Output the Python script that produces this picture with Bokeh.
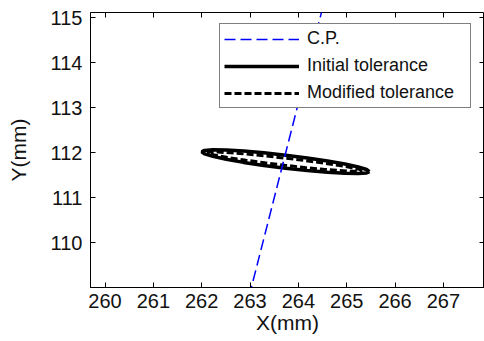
from bokeh.plotting import figure
from bokeh.models import (Range1d, LinearAxis, Legend, LegendItem, FixedTicker,
                          CustomLabelingPolicy)
from bokeh.embed import file_html
from bokeh.resources import INLINE

# --- data ---
x_ticks = [260, 261, 262, 263, 264, 265, 266, 267]
y_ticks = [110, 111, 112, 113, 114, 115]

cp_x = [262.98, 264.52]
cp_y = [108.8, 115.3]

init_x = [265.470, 265.411, 265.238, 264.962, 264.603, 264.184, 263.735, 263.286,
          262.868, 262.508, 262.232, 262.059, 262.000, 262.059, 262.232, 262.508,
          262.868, 263.286, 263.735, 264.184, 264.603, 264.962, 265.238, 265.411, 265.470]
init_y = [111.580, 111.625, 111.682, 111.747, 111.816, 111.883, 111.945, 111.997,
          112.036, 112.058, 112.063, 112.050, 112.020, 111.975, 111.918, 111.853,
          111.784, 111.717, 111.655, 111.603, 111.564, 111.542, 111.537, 111.550, 111.580]

mod_x = [265.320, 265.266, 265.106, 264.851, 264.520, 264.134, 263.720, 263.306,
         262.920, 262.589, 262.334, 262.174, 262.120, 262.174, 262.334, 262.589,
         262.920, 263.306, 263.720, 264.134, 264.520, 264.851, 265.106, 265.266, 265.320]
mod_y = [111.600, 111.628, 111.667, 111.715, 111.769, 111.826, 111.880, 111.929,
         111.969, 111.998, 112.013, 112.014, 112.000, 111.973, 111.933, 111.885,
         111.831, 111.775, 111.720, 111.671, 111.631, 111.602, 111.587, 111.586, 111.600]

labels = ["C.P.", "Initial tolerance", "Modified tolerance"]

FONT = "Liberation Sans"

p = figure(width=484, height=341, output_backend="svg", toolbar_location=None,
           x_range=Range1d(259.70, 267.85), y_range=Range1d(109.0, 115.12),
           min_border_left=90, min_border_right=0, min_border_top=12, min_border_bottom=54)
p.xgrid.visible = False
p.ygrid.visible = False
p.outline_line_color = "black"
p.outline_line_width = 1
p.background_fill_color = "white"

for ax in (p.xaxis[0], p.yaxis[0]):
    ax.major_tick_in = 5
    ax.major_tick_out = 0
    ax.minor_tick_line_color = None
    ax.axis_line_color = "black"
    ax.major_tick_line_color = "black"
    ax.major_label_text_font = FONT
    ax.major_label_text_font_size = "20px"
    ax.major_label_text_color = "#111111"
    ax.axis_label_text_font = FONT
    ax.axis_label_text_font_size = "21px"
    ax.axis_label_text_font_style = "normal"
    ax.axis_label_text_color = "#111111"

p.xaxis[0].ticker = FixedTicker(ticks=x_ticks)
p.yaxis[0].ticker = FixedTicker(ticks=y_ticks)
p.xaxis[0].axis_label = "X(mm)"
p.yaxis[0].axis_label = "Y(mm)"
p.xaxis[0].major_label_standoff = 6
p.xaxis[0].axis_label_standoff = 0
p.yaxis[0].major_label_standoff = 8
p.yaxis[0].axis_label_standoff = 18

top_ax = LinearAxis(ticker=FixedTicker(ticks=x_ticks), major_tick_in=5, major_tick_out=0,
                    minor_tick_line_color=None, axis_line_color=None,
                    major_label_policy=CustomLabelingPolicy(code="return new Set()"),
                    major_label_text_font_size="0px", major_label_standoff=0,
                    axis_label_standoff=0)
right_ax = LinearAxis(ticker=FixedTicker(ticks=y_ticks), major_tick_in=5, major_tick_out=0,
                      minor_tick_line_color=None, axis_line_color=None,
                      major_label_policy=CustomLabelingPolicy(code="return new Set()"),
                      major_label_text_font_size="0px", major_label_standoff=0,
                      axis_label_standoff=0)
p.add_layout(top_ax, "above")
p.add_layout(right_ax, "right")

r_init = p.line(init_x, init_y, line_color="black", line_width=3.5)
r_mod = p.line(mod_x, mod_y, line_color="black", line_width=3, line_dash="7 3")
r_cp = p.line(cp_x, cp_y, line_color="#0000ff", line_width=1.5, line_dash="11 5")

legend = Legend(items=[LegendItem(label=labels[0], renderers=[r_cp]),
                       LegendItem(label=labels[1], renderers=[r_init]),
                       LegendItem(label=labels[2], renderers=[r_mod])],
                location=(129, 179))
legend.label_text_font = FONT
legend.label_text_font_size = "18px"
legend.label_text_color = "#111111"
legend.glyph_width = 75
legend.glyph_height = 16
legend.label_height = 16
legend.label_width = 159
legend.spacing = 6
legend.padding = 4
legend.margin = 0
legend.label_standoff = 8
legend.border_line_color = "black"
legend.border_line_width = 1
legend.background_fill_alpha = 1
p.add_layout(legend)

open("out.html", "w").write(file_html(p, INLINE))
